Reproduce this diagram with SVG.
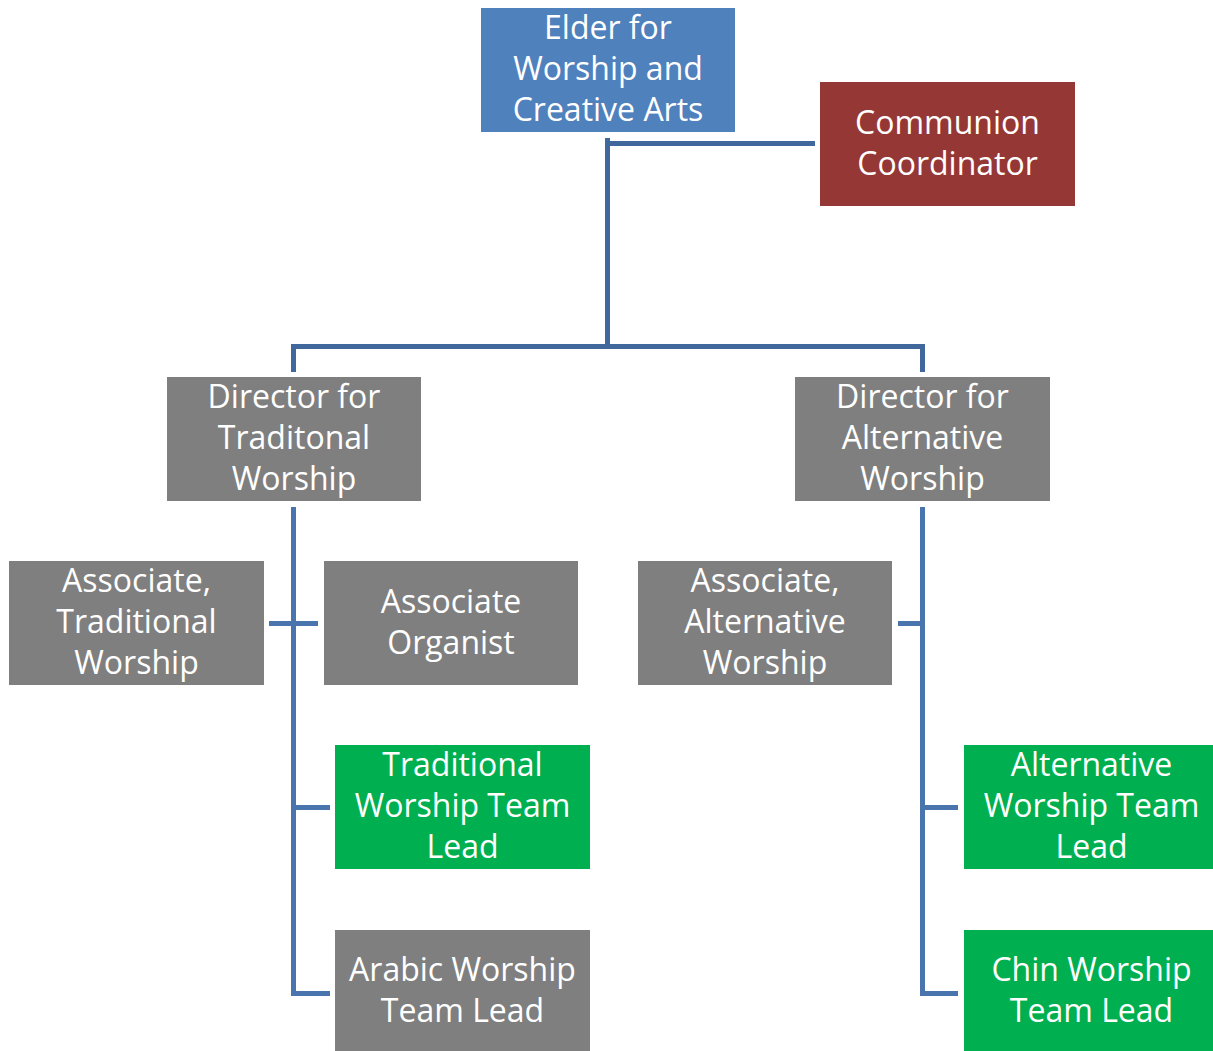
<svg xmlns="http://www.w3.org/2000/svg" width="1213" height="1051" viewBox="0 0 1213 1051">
<style>
.t{font-family:"Open Sans","Liberation Sans",sans-serif;font-size:32px;fill:#fff;text-anchor:middle}
.blue{fill:#4F81BD}.red{fill:#953735}.grey{fill:#7F7F7F}.green{fill:#00B050}
.c1{stroke:#41689C;stroke-width:5;fill:none}
.c2{stroke:#4A74AE;stroke-width:5;fill:none}
</style>
<rect width="1213" height="1051" fill="#fff"/>
<g id="connectors">
<path class="c1" d="M607.5 138V346.5M607.5 143.5H815M293.5 372V346.5H922.5V372"/>
<path class="c2" d="M293.5 507V993.5H330M293.5 807.5H330M269 623.5H318"/>
<path class="c2" d="M922.5 507V993.5H958M922.5 807.5H958M898 623.5H922.5"/>
</g>
<g id="elder"><rect class="blue" x="481" y="8" width="254" height="124"/>
<text class="t"><tspan x="608" y="39">Elder for</tspan><tspan x="608" y="80">Worship and</tspan><tspan x="608" y="121">Creative Arts</tspan></text></g>
<g id="communion"><rect class="red" x="820" y="82" width="255" height="124"/>
<text class="t"><tspan x="947.5" y="134">Communion</tspan><tspan x="947.5" y="175">Coordinator</tspan></text></g>
<g id="dir-trad"><rect class="grey" x="167" y="377" width="254" height="124"/>
<text class="t"><tspan x="294" y="408">Director for</tspan><tspan x="294" y="449">Traditonal</tspan><tspan x="294" y="490">Worship</tspan></text></g>
<g id="dir-alt"><rect class="grey" x="795" y="377" width="255" height="124"/>
<text class="t"><tspan x="922.5" y="408">Director for</tspan><tspan x="922.5" y="449">Alternative</tspan><tspan x="922.5" y="490">Worship</tspan></text></g>
<g id="assoc-trad"><rect class="grey" x="9" y="561" width="255" height="124"/>
<text class="t"><tspan x="136.5" y="592">Associate,</tspan><tspan x="136.5" y="633">Traditional</tspan><tspan x="136.5" y="674">Worship</tspan></text></g>
<g id="organist"><rect class="grey" x="324" y="561" width="254" height="124"/>
<text class="t"><tspan x="451" y="612.5">Associate</tspan><tspan x="451" y="653.5">Organist</tspan></text></g>
<g id="assoc-alt"><rect class="grey" x="638" y="561" width="254" height="124"/>
<text class="t"><tspan x="765" y="592">Associate,</tspan><tspan x="765" y="633">Alternative</tspan><tspan x="765" y="674">Worship</tspan></text></g>
<g id="trad-lead"><rect class="green" x="335" y="745" width="255" height="124"/>
<text class="t"><tspan x="462.5" y="776">Traditional</tspan><tspan x="462.5" y="817">Worship Team</tspan><tspan x="462.5" y="858">Lead</tspan></text></g>
<g id="arabic-lead"><rect class="grey" x="335" y="930" width="255" height="124"/>
<text class="t"><tspan x="462.5" y="981">Arabic Worship</tspan><tspan x="462.5" y="1022">Team Lead</tspan></text></g>
<g id="alt-lead"><rect class="green" x="964" y="745" width="255" height="124"/>
<text class="t"><tspan x="1091.5" y="776">Alternative</tspan><tspan x="1091.5" y="817">Worship Team</tspan><tspan x="1091.5" y="858">Lead</tspan></text></g>
<g id="chin-lead"><rect class="green" x="964" y="930" width="255" height="124"/>
<text class="t"><tspan x="1091.5" y="981">Chin Worship</tspan><tspan x="1091.5" y="1022">Team Lead</tspan></text></g>
</svg>
